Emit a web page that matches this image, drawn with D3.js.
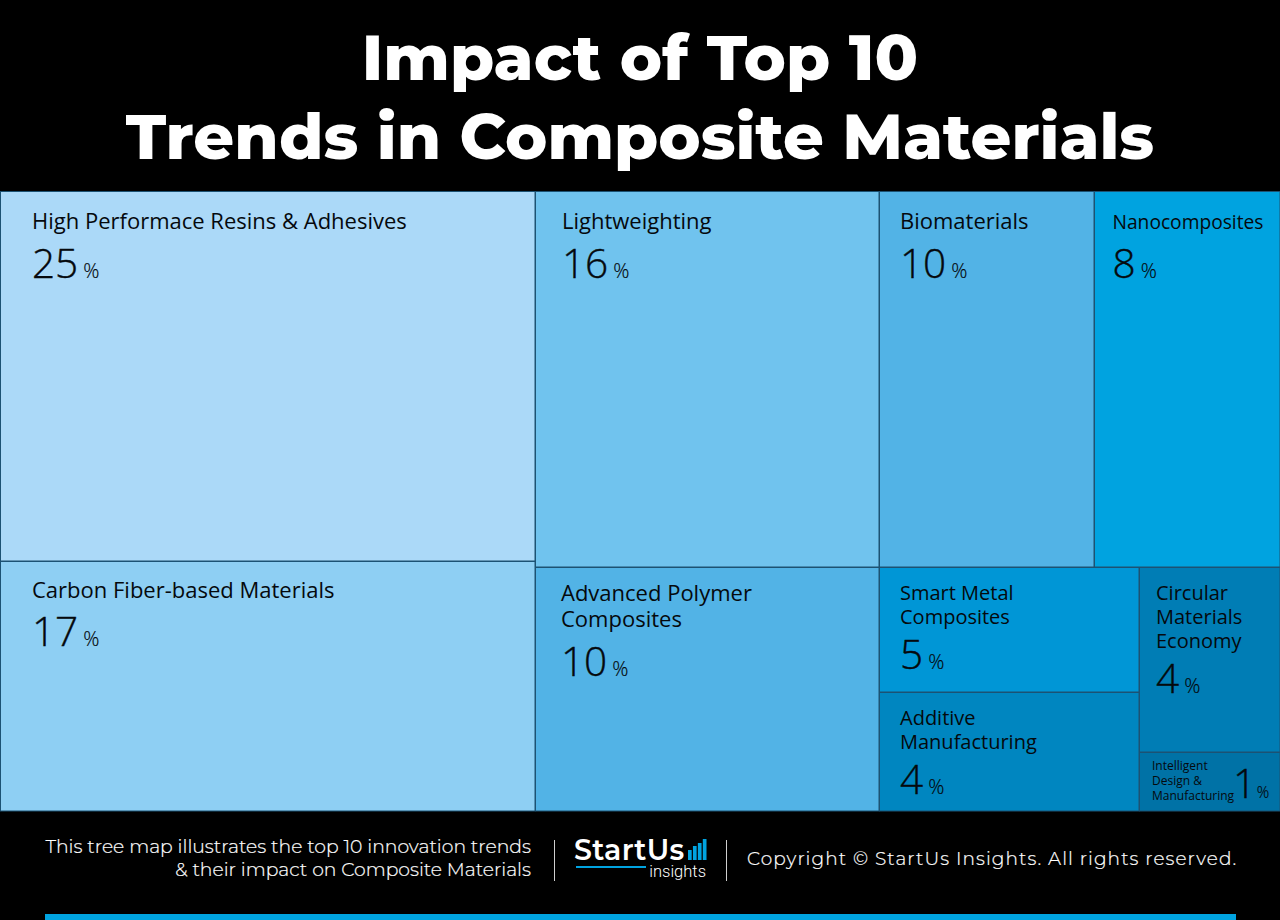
<!DOCTYPE html>
<html><head><meta charset="utf-8">
<script src="https://cdn.jsdelivr.net/npm/d3@7"></script>
<style>html,body{margin:0;padding:0;background:#000;overflow:hidden}svg{display:block}</style>
</head><body><svg id="c" width="1280" height="920"></svg>
<script>
const titleLines = ["Impact of Top 10", "Trends in Composite Materials"];
const trendNames = ["High Performace Resins & Adhesives","Carbon Fiber-based Materials","Lightweighting","Biomaterials","Nanocomposites","Advanced Polymer Composites","Smart Metal Composites","Additive Manufacturing","Circular Materials Economy","Intelligent Design & Manufacturing"];
const impactLabels = [25,17,16,10,8,10,5,4,4,1];
// tile areas (the printed labels are rounded)
const tileAreas = [24.95,16.85,16.3,10.2,8.8,10.6,4.1,3.9,3.3,1.05];
const tileColors = ["#abd9f8","#8ecff3","#70c3ee","#52b3e6","#00a3e0","#52b3e6","#0096d6","#0086c0","#007db5","#0072a6"];
// grouping: columns / rows of the slice-dice layout, as indices into the arrays above
const groups = [[0,1],[[2,3,4],[5,[6,7],[8,9]]]];
const footerLines = ["This tree map illustrates the top 10 innovation trends","& their impact on Composite Materials"];
const copyrightText = "Copyright © StartUs Insights. All rights reserved.";
const logoBars = [10,14,17,21];

const labelStyle = [
 {dx:32,nameSize:22,lines:["High Performace Resins & Adhesives"],y:[38],ny:87},
 {dx:32,nameSize:22,lines:["Carbon Fiber-based Materials"],y:[37],ny:85},
 {dx:27,nameSize:22,lines:["Lightweighting"],y:[38],ny:87},
 {dx:21,nameSize:22,lines:["Biomaterials"],y:[38],ny:87},
 {dx:18.5,nameSize:19.2,lines:["Nanocomposites"],y:[38],ny:87},
 {dx:26,nameSize:22,lines:["Advanced Polymer","Composites"],y:[34,60],ny:109},
 {dx:21,nameSize:20,lines:["Smart Metal","Composites"],y:[33,57],ny:102},
 {dx:21,nameSize:20,lines:["Additive","Manufacturing"],y:[33,57],ny:102},
 {dx:17,nameSize:20,lines:["Circular","Materials","Economy"],y:[33,57,81],ny:126},
 {dx:13,nameSize:12,lines:["Intelligent","Design &","Manufacturing"],y:[18,33,48],ny:46,nx:94,pct:15.5,gap:0.5}
];

const svg = d3.select("#c");
svg.append("rect").attr("width",1280).attr("height",920).attr("fill","#000");

const titleFont = "Montserrat, Inter, 'Open Sans', sans-serif";
svg.append("g").selectAll("text").data(titleLines).join("text")
  .attr("x",640).attr("y",(d,i)=>[80,159][i]).attr("text-anchor","middle")
  .attr("font-family",titleFont).attr("font-weight",800).attr("font-size",63.7)
  .attr("fill","#fff").text(d=>d);

const toNode = g => Array.isArray(g) ? {children:g.map(toNode)} : {index:g,value:tileAreas[g]};
const root = d3.hierarchy({children:groups.map(toNode)}).sum(d=>d.value||0);
d3.treemap().tile(d3.treemapSliceDice).size([1280,620]).round(true)(root);

const leaves = root.leaves();
const cell = svg.append("g").attr("transform","translate(0,191)").selectAll("g").data(leaves).join("g")
  .attr("transform",d=>`translate(${d.x0},${d.y0})`);
cell.append("rect").attr("x",.5).attr("y",.5)
  .attr("width",d=>d.x1-d.x0-.5).attr("height",d=>d.y1-d.y0-.5)
  .attr("fill",d=>tileColors[d.data.index]).attr("stroke","#1c5273").attr("stroke-width",1);

const ink = "#05090d", body = "'Open Sans', sans-serif";
cell.each(function(d){
  const i=d.data.index, s=labelStyle[i], g=d3.select(this);
  s.lines.forEach((t,k)=>g.append("text").attr("x",s.dx).attr("y",s.y[k])
    .attr("font-family",body).attr("font-size",s.nameSize).attr("fill",ink).text(t));
  const n=g.append("text").attr("x",s.nx||s.dx).attr("y",s.ny).attr("font-family",body).attr("fill",ink);
  n.append("tspan").attr("font-size",40.5).attr("font-weight",300).attr("stroke",ink).attr("stroke-width",.4).text(impactLabels[i]);
  n.append("tspan").attr("font-size",s.pct||20).attr("font-weight",300).attr("stroke",ink).attr("stroke-width",.2).attr("dx",s.gap||5).text("%");
});

const footFont = "Montserrat, Inter, sans-serif";
svg.append("g").selectAll("text").data(footerLines).join("text")
  .attr("x",531).attr("y",(d,i)=>853+i*22.5).attr("text-anchor","end")
  .attr("font-family",footFont).attr("font-weight",300).attr("font-size",18.8)
  .attr("fill","#fff").attr("stroke","#fff").attr("stroke-width",.2).text(d=>d);
svg.append("g").selectAll("line").data([554.5,726.5]).join("line")
  .attr("x1",d=>d).attr("x2",d=>d).attr("y1",840).attr("y2",881).attr("stroke","#cfcfcf").attr("stroke-width",1);

svg.append("text").attr("x",574).attr("y",860).attr("font-family",footFont).attr("font-weight",600)
  .attr("font-size",28.5).attr("letter-spacing",.3).attr("fill","#fff").text("StartUs");
svg.append("rect").attr("x",576).attr("y",866).attr("width",70).attr("height",2).attr("fill","#00a3e0");
svg.append("text").attr("x",706).attr("y",877).attr("text-anchor","end").attr("font-family","Roboto, sans-serif")
  .attr("font-weight",300).attr("font-size",16.5).attr("fill","#fff").text("insights");
const bx=d3.scaleBand().domain(d3.range(logoBars.length)).range([688,706.5]).paddingInner(.25);
const by=d3.scaleLinear().domain([0,21]).range([860,839]);
svg.append("g").selectAll("rect").data(logoBars).join("rect")
  .attr("x",(d,i)=>bx(i)).attr("width",bx.bandwidth()).attr("y",d=>by(d)).attr("height",d=>by(0)-by(d)).attr("fill","#00a3e0");

svg.append("text").attr("x",747).attr("y",865).attr("font-family",footFont).attr("font-weight",300)
  .attr("font-size",18.5).attr("letter-spacing",1.08).attr("fill","#fff").attr("stroke","#fff").attr("stroke-width",.2).text(copyrightText);

svg.append("rect").attr("x",45).attr("y",914).attr("width",1191).attr("height",6).attr("fill","#00a3e0");
</script></body></html>
